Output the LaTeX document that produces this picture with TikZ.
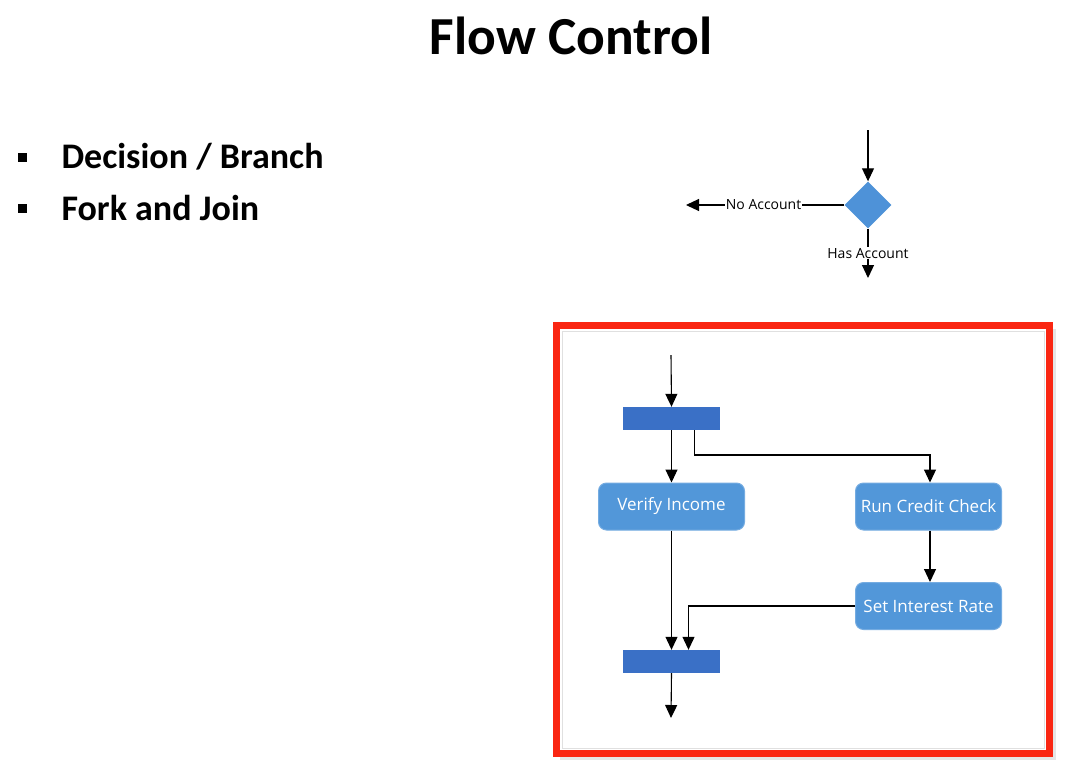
\documentclass[tikz,border=0pt]{standalone}
\usepackage{fontspec}
\setmainfont{Carlito}
\newfontfamily\boxfont{Open Sans}
\usetikzlibrary{shapes.geometric,arrows.meta}
\definecolor{barblue}{HTML}{3A70C6}
\definecolor{actblue}{HTML}{5297D9}
\definecolor{diablue}{HTML}{4E92D8}
\definecolor{framered}{HTML}{FA2612}
\tikzset{
  flow/.style={line width=1.1pt,-{Triangle[length=13pt,width=12pt]}},
  bar/.style={rectangle,fill=barblue,minimum width=97pt,minimum height=23pt,inner sep=0pt},
  action/.style={rectangle,rounded corners=8pt,fill=actblue,draw=actblue!80!white,line width=1pt,
    minimum width=146pt,minimum height=47pt,inner sep=0pt,text=white,
    font=\boxfont\fontsize{17}{19}\selectfont},
  decision/.style={diamond,fill=diablue,minimum width=47pt,minimum height=47pt,inner sep=0pt},
  tag/.style={fill=white,inner sep=1pt,font=\boxfont\fontsize{14}{16}\selectfont},
  bullet/.style={rectangle,fill=black,minimum size=9pt,inner sep=0pt},
  item/.style={anchor=west,font=\bfseries\fontsize{36}{40}\selectfont},
}
\begin{document}
\begin{tikzpicture}[x=1pt,y=-1pt]
\useasboundingbox (0,0) rectangle (1075,780);
\fill[white] (0,0) rectangle (1075,780);

% heading and bullet list
\node[font=\bfseries\fontsize{53.5}{60}\selectfont] (title) at (571,36) {Flow Control};
\node[bullet] (b1) at (22,157) {};
\node[item] (t1) at (58,157) {Decision / Branch};
\node[bullet] (b2) at (22,208) {};
\node[item] (t2) at (58,208) {Fork and Join};

% decision example
\coordinate (din) at (868,130);
\node[decision] (dec) at (868,205) {};
\coordinate (noend) at (686,205);
\coordinate (hasend) at (868,278);
\draw[flow] (din) -- (dec.north);
\draw[flow] (dec.west) -- node[tag,pos=0.51] (nolab) {No Account} (noend);
\draw[flow] (dec.south) -- node[tag,pos=0.5] (haslab) {Has Account} (hasend);

% highlighted frame
\fill[black!10] (560,329) rectangle (1056,760);
\fill[white] (556.5,325.5) rectangle (1049.5,753.5);
\draw[black!12,line width=1pt] (562,331) rectangle (1044,748);
\draw[framered,line width=7pt] (556.5,325.5) rectangle (1049.5,753.5);

% fork and join
\coordinate (fin) at (671,355);
\node[bar] (fork) at (671.5,418.5) {};
\node[action] (verify) at (671.5,506.5) {Verify Income};
\node[action] (credit) at (928.5,506.5) {Run Credit Check};
\node[action] (rate) at (928.5,606) {Set Interest Rate};
\node[bar] (join) at (671.5,661.5) {};
\coordinate (fout) at (671,718);

\draw[flow] (fin) -- (fork.north);
\draw[flow] (fork.south) -- (verify.north);
\draw[flow] ([xshift=23pt]fork.south) |- (930,455) -- (credit.north -| 930,0);
\draw[flow] (credit.south -| 930,0) -- (rate.north -| 930,0);
\draw[flow] (verify.south) -- (join.north);
\draw[flow] (rate.west) -| ([xshift=17pt]join.north);
\draw[flow] (join.south) -- (fout);
\end{tikzpicture}
\end{document}
